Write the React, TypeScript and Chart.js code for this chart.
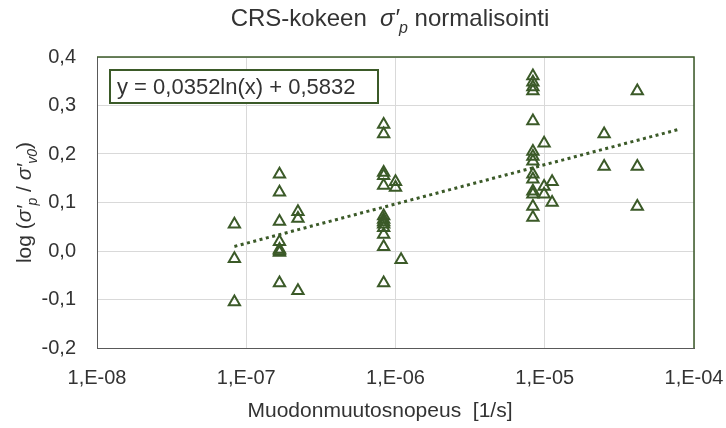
import React, { useEffect, useRef } from 'react';
import { Chart, registerables } from 'chart.js';

Chart.register(...registerables);

// ---- data ----
const strainRate: number[] = [
  8.33e-8, 8.33e-8, 8.33e-8,
  1.67e-7, 1.67e-7, 1.67e-7, 1.67e-7, 1.67e-7, 1.67e-7, 1.67e-7, 1.67e-7,
  2.22e-7, 2.22e-7, 2.22e-7,
  8.33e-7, 8.33e-7, 8.33e-7, 8.33e-7, 8.33e-7, 8.33e-7, 8.33e-7, 8.33e-7, 8.33e-7, 8.33e-7, 8.33e-7, 8.33e-7, 8.33e-7,
  1.0e-6, 1.0e-6, 1.09e-6,
  8.33e-6, 8.33e-6, 8.33e-6, 8.33e-6, 8.33e-6, 8.33e-6, 8.33e-6, 8.33e-6, 8.33e-6, 8.33e-6, 8.33e-6, 8.33e-6, 8.33e-6, 8.33e-6,
  9.9e-6, 9.9e-6, 9.9e-6, 1.12e-5, 1.12e-5,
  2.5e-5, 2.5e-5,
  4.17e-5, 4.17e-5, 4.17e-5,
];
const logRatio: number[] = [
  0.055, -0.016, -0.105,
  0.158, 0.121, 0.061, 0.019, 0.003, 0.0, -0.003, -0.066,
  0.081, 0.067, -0.082,
  0.261, 0.241, 0.162, 0.155, 0.135, 0.072, 0.065, 0.060, 0.055, 0.048, 0.034, 0.009, -0.066,
  0.143, 0.131, -0.018,
  0.361, 0.348, 0.338, 0.330, 0.268, 0.205, 0.195, 0.185, 0.158, 0.148, 0.123, 0.117, 0.092, 0.069,
  0.222, 0.133, 0.117, 0.143, 0.100,
  0.241, 0.174,
  0.330, 0.174, 0.092,
];

const xTickValues: number[] = [1e-8, 1e-7, 1e-6, 1e-5, 1e-4];
const xTickLabels: string[] = ['1,E-08', '1,E-07', '1,E-06', '1,E-05', '1,E-04'];
const yMin = -0.2;
const yMax = 0.4;
const yStep = 0.1;

const trendSlope = 0.0352;
const trendIntercept = 0.5832;
const trendXStart = 8.33e-8;
const trendXEnd = 8.0e-5;
const equationText = 'y = 0,0352ln(x) + 0,5832';

const GREEN = '#3b5a28';
const TEXT = '#333333';
const FONT = '"Liberation Sans", Arial, sans-serif';

type Part = { t: string; italic?: boolean; sub?: boolean };

function drawRich(ctx: CanvasRenderingContext2D, parts: Part[], size: number, cx: number, baseline: number) {
  const subSize = Math.round(size * 0.65);
  const fontFor = (p: Part) => `${p.italic ? 'italic ' : ''}${p.sub ? subSize : size}px ${FONT}`;
  let total = 0;
  const widths = parts.map((p) => {
    ctx.font = fontFor(p);
    const w = ctx.measureText(p.t).width;
    total += w;
    return w;
  });
  let x = cx - total / 2;
  ctx.textBaseline = 'alphabetic';
  ctx.textAlign = 'left';
  parts.forEach((p, i) => {
    ctx.font = fontFor(p);
    ctx.fillText(p.t, x, baseline + (p.sub ? size * 0.28 : 0));
    x += widths[i];
  });
}

const decorPlugin = {
  id: 'decor',
  beforeDatasetsDraw(chart: any) {
    const { ctx, chartArea } = chart;
    ctx.save();
    ctx.strokeStyle = GREEN;
    ctx.lineWidth = 1.5;
    ctx.beginPath();
    ctx.moveTo(chartArea.left, chartArea.top);
    ctx.lineTo(chartArea.right, chartArea.top);
    ctx.lineTo(chartArea.right, chartArea.bottom);
    ctx.stroke();
    ctx.restore();
  },
  afterDraw(chart: any) {
    const { ctx, chartArea } = chart;
    ctx.save();
    ctx.fillStyle = TEXT;
    // title
    drawRich(
      ctx,
      [
        { t: 'CRS-kokeen  ' },
        { t: 'σ′', italic: true },
        { t: 'p', italic: true, sub: true },
        { t: ' normalisointi' },
      ],
      24,
      390,
      26
    );
    // x axis title
    ctx.font = `21px ${FONT}`;
    ctx.textAlign = 'center';
    ctx.textBaseline = 'middle';
    ctx.fillText('Muodonmuutosnopeus  [1/s]', 380, 411);
    // y axis title
    ctx.save();
    ctx.translate(24, (chartArea.top + chartArea.bottom) / 2);
    ctx.rotate(-Math.PI / 2);
    drawRich(
      ctx,
      [
        { t: 'log (' },
        { t: 'σ′', italic: true },
        { t: 'p', italic: true, sub: true },
        { t: ' / ' },
        { t: 'σ′', italic: true },
        { t: 'v0', italic: true, sub: true },
        { t: ')' },
      ],
      21,
      0,
      7
    );
    ctx.restore();
    // equation box
    const bx = 110, by = 70, bw = 268, bh = 33;
    ctx.fillStyle = '#ffffff';
    ctx.fillRect(bx, by, bw, bh);
    ctx.strokeStyle = GREEN;
    ctx.lineWidth = 2;
    ctx.strokeRect(bx, by, bw, bh);
    ctx.fillStyle = TEXT;
    ctx.font = `22px ${FONT}`;
    ctx.textAlign = 'left';
    ctx.textBaseline = 'middle';
    ctx.fillText(equationText, bx + 7, by + bh / 2 + 1);
    ctx.restore();
  },
};

export default function App() {
  const canvasRef = useRef<HTMLCanvasElement | null>(null);

  useEffect(() => {
    if (!canvasRef.current) return;
    const points = strainRate.map((x, i) => ({ x, y: logRatio[i] }));
    const trend = [trendXStart, trendXEnd].map((x) => ({ x, y: trendSlope * Math.log(x) + trendIntercept }));

    const chart = new Chart(canvasRef.current, {
      type: 'scatter',
      data: {
        datasets: [
          {
            label: 'data',
            data: points,
            pointStyle: 'triangle',
            pointRadius: 6.5,
            pointBorderWidth: 2,
            pointBorderColor: GREEN,
            pointBackgroundColor: 'rgba(0,0,0,0)',
            showLine: false,
            order: 1,
          },
          {
            label: 'trend',
            data: trend,
            showLine: true,
            borderColor: GREEN,
            borderWidth: 3,
            borderDash: [3, 3.5],
            pointRadius: 0,
            fill: false,
            order: 0,
          },
        ],
      },
      options: {
        animation: false,
        responsive: false,
        maintainAspectRatio: false,
        layout: { padding: { left: 0, right: 32, top: 57, bottom: 0 } },
        plugins: {
          legend: { display: false },
          tooltip: { enabled: false },
          title: { display: false },
        },
        scales: {
          x: {
            type: 'logarithmic',
            min: 1e-8,
            max: 1e-4,
            afterBuildTicks: (scale: any) => {
              scale.ticks = xTickValues.map((v) => ({ value: v }));
            },
            afterFit: (scale: any) => {
              scale.height = 80;
              scale.paddingLeft = 0;
              scale.paddingRight = 0;
            },
            ticks: {
              autoSkip: false,
              maxRotation: 0,
              padding: 18,
              color: TEXT,
              font: { family: FONT, size: 20 },
              callback: (_v: any, i: number) => xTickLabels[i],
            },
            grid: { color: '#d9d9d9', lineWidth: 1, drawTicks: false },
            border: { color: '#595959', width: 1 },
          },
          y: {
            type: 'linear',
            min: yMin,
            max: yMax,
            afterFit: (scale: any) => {
              scale.width = 97;
              scale.paddingTop = 0;
              scale.paddingBottom = 0;
            },
            ticks: {
              stepSize: yStep,
              padding: 21,
              color: TEXT,
              font: { family: FONT, size: 20 },
              callback: (v: any) => Number(v).toFixed(1).replace('.', ','),
            },
            grid: { color: '#d9d9d9', lineWidth: 1, drawTicks: false },
            border: { color: '#595959', width: 1 },
          },
        },
      },
      plugins: [decorPlugin],
    } as any);

    return () => chart.destroy();
  }, []);

  return (
    <div style={{ position: 'absolute', left: 0, top: 0, width: 726, height: 428 }}>
      <canvas ref={canvasRef} width={726} height={428} style={{ display: 'block' }} />
    </div>
  );
}
